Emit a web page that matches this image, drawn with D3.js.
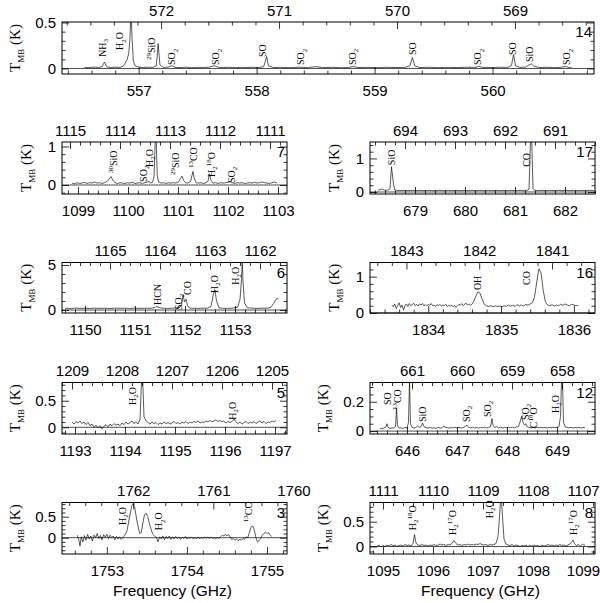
<!DOCTYPE html>
<html><head><meta charset="utf-8">
<script src="https://cdn.jsdelivr.net/npm/d3@7"></script>
<style>body{margin:0;background:#fff}</style>
</head><body>
<svg id="c" width="600" height="603"></svg>
<script>
// ---------------- DATA ----------------
// sideband sums (upper-axis frequency = C - lower frequency)
const C14 = 1129.19, C7 = 2213.84, C17 = 1372.8, C6 = 2315.5, C16 = 3676.7,
      C5 = 2401.94, C12 = 1307.1, C3 = 3515.33, C8 = 2206.0;

// tick labels (bottom = signal band, top = image band), GHz
const bot14=[557,558,559,560], top14=[572,571,570,569];
const bot7=[1099,1100,1101,1102,1103], top7=[1115,1114,1113,1112,1111];
const bot17=[679,680,681,682], top17=[694,693,692,691];
const bot6=[1150,1151,1152,1153], top6=[1165,1164,1163,1162];
const bot16=[1834,1835,1836], top16=[1843,1842,1841];
const bot5=[1193,1194,1195,1196,1197], top5=[1209,1208,1207,1206,1205];
const bot12=[646,647,648,649], top12=[661,660,659,658];
const bot3=[1753,1754,1755], top3=[1762,1761,1760];
const bot8=[1095,1096,1097,1098,1099], top8=[1111,1110,1109,1108,1107];

// y tick labels (K)
const yt14=[0,0.5], yt7=[0,1], yt17=[0,1], yt6=[0,5], yt16=[0,1], yt5=[0,0.5], yt12=[0,0.2], yt3=[0,0.5], yt8=[0,0.5];

// spectra [frequency GHz, T_MB K]
const spec14=[[556.54,0.012],[556.58,0.008],[556.62,0.015],[556.66,0.01],[556.69,0.02],[556.71,0.07],[556.73,0.018],[556.76,0.01],[556.80,0.014],[556.84,0.012],[556.87,0.025],[556.90,0.09],[556.915,0.16],[556.925,0.3],[556.935,0.62],[556.945,0.3],[556.955,0.08],[556.97,0.03],[557.00,0.015],[557.04,0.01],[557.08,0.014],[557.12,0.012],[557.15,0.03],[557.165,0.27],[557.18,0.04],[557.21,0.012],[557.25,0.015],[557.28,0.03],[557.31,0.012],[557.35,0.01],[557.40,0.014],[557.45,0.008],[557.50,0.012],[557.55,0.01],[557.60,0.015],[557.64,0.03],[557.68,0.012],[557.72,0.01],[557.77,0.013],[557.82,0.009],[557.87,0.012],[557.92,0.01],[557.97,0.013],[558.02,0.01],[558.06,0.02],[558.085,0.13],[558.10,0.03],[558.14,0.01],[558.20,0.012],[558.28,0.009],[558.36,0.013],[558.44,0.01],[558.50,0.02],[558.56,0.01],[558.64,0.012],[558.72,0.008],[558.78,0.012],[558.82,0.022],[558.86,0.01],[558.94,0.012],[559.02,0.009],[559.10,0.013],[559.18,0.01],[559.26,0.012],[559.30,0.03],[559.32,0.12],[559.34,0.03],[559.38,0.01],[559.46,0.013],[559.54,0.009],[559.62,0.012],[559.70,0.01],[559.78,0.013],[559.86,0.012],[559.88,0.025],[559.91,0.012],[559.98,0.01],[560.06,0.013],[560.13,0.012],[560.16,0.03],[560.178,0.15],[560.195,0.03],[560.23,0.012],[560.28,0.015],[560.31,0.04],[560.33,0.05],[560.35,0.025],[560.40,0.01],[560.46,0.013],[560.52,0.009],[560.58,0.012],[560.62,0.022],[560.65,0.01],[560.67,0.012]];

const spec7=[[1098.88,0.05],[1098.93,0.03],[1098.98,0.06],[1099.03,0.04],[1099.08,0.05],[1099.13,0.07],[1099.18,0.04],[1099.23,0.06],[1099.28,0.05],[1099.33,0.08],[1099.38,0.05],[1099.43,0.06],[1099.48,0.04],[1099.53,0.06],[1099.58,0.09],[1099.62,0.15],[1099.66,0.22],[1099.70,0.12],[1099.74,0.06],[1099.79,0.04],[1099.84,0.06],[1099.89,0.05],[1099.94,0.04],[1099.99,0.06],[1100.04,0.05],[1100.09,0.07],[1100.14,0.04],[1100.19,0.05],[1100.24,0.06],[1100.29,0.04],[1100.34,0.06],[1100.39,0.08],[1100.42,0.1],[1100.45,0.05],[1100.49,0.07],[1100.52,0.2],[1100.545,1.15],[1100.565,1.15],[1100.585,0.25],[1100.61,0.08],[1100.66,0.05],[1100.71,0.06],[1100.76,0.04],[1100.81,0.06],[1100.86,0.05],[1100.91,0.06],[1100.96,0.05],[1101.01,0.08],[1101.05,0.17],[1101.08,0.23],[1101.11,0.12],[1101.15,0.06],[1101.2,0.05],[1101.25,0.09],[1101.28,0.25],[1101.30,0.35],[1101.32,0.2],[1101.36,0.06],[1101.41,0.05],[1101.46,0.06],[1101.51,0.04],[1101.56,0.06],[1101.6,0.1],[1101.63,0.29],[1101.66,0.12],[1101.7,0.05],[1101.75,0.06],[1101.8,0.04],[1101.85,0.06],[1101.9,0.05],[1101.95,0.06],[1102.0,0.07],[1102.04,0.1],[1102.08,0.06],[1102.13,0.04],[1102.18,0.06],[1102.23,0.05],[1102.28,0.06],[1102.33,0.04],[1102.38,0.05],[1102.43,0.06],[1102.48,0.05],[1102.53,0.07],[1102.58,0.05],[1102.63,0.06],[1102.68,0.08],[1102.73,0.06],[1102.78,0.05],[1102.83,0.04],[1102.88,0.06],[1102.93,0.08],[1102.98,0.05]];

const spec17=[[678.26,0.05],[678.3,0.07],[678.34,0.09],[678.38,0.06],[678.42,0.05],[678.46,0.06],[678.5,0.1],[678.53,0.75],[678.56,0.35],[678.59,0.07],[678.63,0.05],[678.7,0.04],[678.78,0.05],[678.86,0.04],[678.94,0.05],[679.02,0.04],[679.1,0.05],[679.18,0.04],[679.26,0.05],[679.34,0.04],[679.42,0.04],[679.5,0.05],[679.58,0.04],[679.66,0.05],[679.74,0.04],[679.82,0.05],[679.9,0.04],[679.98,0.05],[680.06,0.04],[680.14,0.05],[680.22,0.04],[680.3,0.05],[680.38,0.04],[680.46,0.05],[680.54,0.04],[680.62,0.05],[680.7,0.04],[680.78,0.05],[680.86,0.04],[680.94,0.05],[681.02,0.04],[681.1,0.05],[681.18,0.04],[681.24,0.05],[681.28,0.08],[681.31,1.55],[681.335,1.55],[681.36,0.1],[681.4,0.05],[681.46,0.04],[681.54,0.05],[681.62,0.04],[681.7,0.05],[681.78,0.04],[681.86,0.05],[681.94,0.04],[682.02,0.05],[682.1,0.04],[682.18,0.05],[682.26,0.04],[682.34,0.05],[682.42,0.04],[682.5,0.05],[682.58,0.04]];

const spec6=[[1149.6,0.2],[1149.7,0.15],[1149.8,0.22],[1149.9,0.18],[1150.0,0.2],[1150.1,0.17],[1150.2,0.21],[1150.3,0.18],[1150.4,0.2],[1150.5,0.16],[1150.6,0.21],[1150.7,0.19],[1150.8,0.2],[1150.9,0.17],[1151.0,0.21],[1151.1,0.18],[1151.2,0.2],[1151.3,0.19],[1151.38,0.25],[1151.43,0.4],[1151.48,0.28],[1151.55,0.2],[1151.65,0.18],[1151.75,0.21],[1151.83,0.26],[1151.88,0.22],[1151.93,0.5],[1151.96,1.7],[1151.99,0.9],[1152.02,1.2],[1152.05,0.5],[1152.09,0.22],[1152.15,0.2],[1152.25,0.18],[1152.35,0.21],[1152.45,0.2],[1152.52,0.4],[1152.57,1.8],[1152.6,2.2],[1152.63,1.0],[1152.68,0.25],[1152.75,0.2],[1152.85,0.18],[1152.95,0.21],[1153.05,0.3],[1153.1,1.2],[1153.13,3.4],[1153.145,5.5],[1153.16,3.2],[1153.19,0.8],[1153.25,0.25],[1153.35,0.2],[1153.45,0.18],[1153.55,0.21],[1153.65,0.2],[1153.72,0.3],[1153.77,0.7],[1153.82,1.2],[1153.87,1.3]];

const spec16=[[1833.5,0.22],[1833.52,0.17],[1833.54,0.25],[1833.56,0.12],[1833.58,0.2],[1833.6,0.28],[1833.62,0.15],[1833.64,0.22],[1833.66,0.08],[1833.68,0.2],[1833.7,0.25],[1833.72,0.18],[1833.74,0.26],[1833.76,0.2],[1833.78,0.23],[1833.8,0.27],[1833.82,0.2],[1833.84,0.24],[1833.86,0.19],[1833.88,0.25],[1833.9,0.22],[1833.92,0.26],[1833.94,0.2],[1833.96,0.23],[1833.98,0.19],[1834.0,0.24],[1834.02,0.21],[1834.04,0.26],[1834.06,0.2],[1834.08,0.22],[1834.1,0.18],[1834.12,0.23],[1834.14,0.2],[1834.16,0.24],[1834.18,0.19],[1834.2,0.22],[1834.22,0.2],[1834.24,0.24],[1834.26,0.18],[1834.28,0.21],[1834.3,0.19],[1834.32,0.22],[1834.34,0.17],[1834.36,0.21],[1834.38,0.15],[1834.4,0.2],[1834.42,0.24],[1834.44,0.21],[1834.46,0.26],[1834.48,0.2],[1834.5,0.24],[1834.52,0.27],[1834.54,0.22],[1834.56,0.25],[1834.58,0.21],[1834.6,0.24],[1834.62,0.3],[1834.65,0.45],[1834.68,0.58],[1834.71,0.55],[1834.74,0.38],[1834.77,0.24],[1834.8,0.2],[1834.83,0.18],[1834.86,0.2],[1834.89,0.17],[1834.92,0.2],[1834.95,0.18],[1834.98,0.19],[1835.01,0.17],[1835.04,0.2],[1835.07,0.18],[1835.1,0.22],[1835.13,0.19],[1835.16,0.21],[1835.19,0.18],[1835.22,0.23],[1835.25,0.2],[1835.28,0.22],[1835.31,0.19],[1835.34,0.24],[1835.37,0.21],[1835.4,0.25],[1835.43,0.28],[1835.46,0.45],[1835.49,0.85],[1835.52,1.22],[1835.55,1.1],[1835.58,0.6],[1835.61,0.3],[1835.64,0.22],[1835.67,0.2],[1835.7,0.23],[1835.73,0.19],[1835.76,0.22],[1835.79,0.2],[1835.82,0.24],[1835.85,0.21],[1835.88,0.25],[1835.91,0.22],[1835.94,0.2],[1835.97,0.24],[1836.0,0.22],[1836.03,0.2],[1836.06,0.21]];

const spec5=[[1192.94,0.1],[1192.98,0.06],[1193.02,0.11],[1193.06,0.08],[1193.1,0.12],[1193.14,0.07],[1193.18,0.1],[1193.22,0.05],[1193.26,0.09],[1193.3,0.03],[1193.34,0.06],[1193.38,0.0],[1193.42,0.04],[1193.46,-0.01],[1193.5,0.03],[1193.54,-0.03],[1193.58,0.02],[1193.62,0.05],[1193.66,0.01],[1193.7,0.06],[1193.74,0.03],[1193.78,0.07],[1193.82,0.04],[1193.86,0.06],[1193.9,0.03],[1193.94,0.08],[1193.98,0.05],[1194.02,0.1],[1194.06,0.06],[1194.1,0.09],[1194.14,0.12],[1194.18,0.07],[1194.22,0.1],[1194.26,0.06],[1194.3,0.15],[1194.33,0.86],[1194.355,0.86],[1194.38,0.2],[1194.42,0.12],[1194.46,0.09],[1194.5,0.06],[1194.54,0.1],[1194.58,0.07],[1194.62,0.09],[1194.66,0.05],[1194.7,0.08],[1194.74,0.06],[1194.78,0.1],[1194.82,0.07],[1194.86,0.09],[1194.9,0.06],[1194.94,0.08],[1194.98,0.11],[1195.02,0.07],[1195.06,0.09],[1195.1,0.06],[1195.14,0.1],[1195.18,0.08],[1195.22,0.11],[1195.26,0.07],[1195.3,0.1],[1195.34,0.08],[1195.38,0.11],[1195.42,0.09],[1195.46,0.12],[1195.5,0.08],[1195.54,0.1],[1195.58,0.09],[1195.62,0.12],[1195.66,0.1],[1195.7,0.13],[1195.74,0.1],[1195.78,0.12],[1195.82,0.14],[1195.86,0.11],[1195.9,0.13],[1195.94,0.1],[1195.98,0.12],[1196.02,0.08],[1196.06,0.11],[1196.1,0.09],[1196.14,0.11],[1196.18,0.16],[1196.22,0.1],[1196.26,0.07],[1196.3,0.1],[1196.34,0.06],[1196.38,0.09],[1196.42,0.11],[1196.46,0.07],[1196.5,0.1],[1196.54,0.08],[1196.58,0.11],[1196.62,0.07],[1196.66,0.1],[1196.7,0.12],[1196.74,0.08],[1196.78,0.11],[1196.82,0.07],[1196.86,0.1],[1196.9,0.09],[1196.94,0.12],[1196.98,0.1],[1197.02,0.13]];

const spec12=[[645.46,0.02],[645.5,0.015],[645.54,0.022],[645.58,0.03],[645.6,0.05],[645.62,0.025],[645.66,0.018],[645.7,0.022],[645.74,0.02],[645.77,0.03],[645.79,0.155],[645.81,0.04],[645.84,0.02],[645.88,0.022],[645.92,0.018],[645.96,0.025],[646.0,0.02],[646.03,0.06],[646.05,0.34],[646.07,0.05],[646.1,0.025],[646.14,0.02],[646.18,0.025],[646.21,0.035],[646.24,0.025],[646.28,0.03],[646.31,0.055],[646.34,0.03],[646.38,0.022],[646.42,0.02],[646.46,0.025],[646.5,0.02],[646.54,0.022],[646.58,0.018],[646.62,0.025],[646.66,0.02],[646.7,0.023],[646.74,0.035],[646.77,0.022],[646.8,0.025],[646.84,0.02],[646.88,0.024],[646.92,0.021],[646.96,0.026],[647.0,0.022],[647.04,0.025],[647.08,0.02],[647.12,0.024],[647.16,0.03],[647.2,0.04],[647.23,0.025],[647.27,0.022],[647.31,0.026],[647.35,0.021],[647.39,0.024],[647.43,0.02],[647.47,0.025],[647.51,0.022],[647.55,0.026],[647.59,0.021],[647.63,0.024],[647.67,0.03],[647.7,0.085],[647.72,0.04],[647.75,0.025],[647.79,0.03],[647.83,0.022],[647.87,0.026],[647.91,0.021],[647.95,0.025],[647.99,0.022],[648.03,0.027],[648.07,0.023],[648.11,0.026],[648.15,0.022],[648.19,0.028],[648.23,0.03],[648.26,0.06],[648.29,0.1],[648.32,0.06],[648.35,0.04],[648.38,0.05],[648.4,0.03],[648.44,0.025],[648.48,0.022],[648.52,0.025],[648.56,0.021],[648.6,0.024],[648.64,0.022],[648.68,0.026],[648.72,0.022],[648.76,0.025],[648.8,0.021],[648.84,0.024],[648.88,0.022],[648.92,0.026],[648.96,0.022],[649.0,0.025],[649.04,0.03],[649.07,0.1],[649.09,0.34],[649.11,0.34],[649.13,0.06],[649.16,0.03],[649.2,0.025],[649.24,0.022],[649.28,0.026],[649.32,0.021],[649.36,0.025],[649.4,0.022],[649.44,0.024],[649.48,0.021],[649.52,0.025],[649.56,0.022]];

const spec3=[[1752.63,0.06],[1752.65,-0.05],[1752.665,-0.2],[1752.68,0.02],[1752.7,-0.1],[1752.72,0.05],[1752.74,-0.06],[1752.76,0.08],[1752.78,-0.03],[1752.8,0.04],[1752.82,-0.08],[1752.84,0.06],[1752.86,0.0],[1752.88,0.1],[1752.9,-0.02],[1752.92,0.05],[1752.94,-0.05],[1752.96,0.07],[1752.98,0.01],[1753.0,0.08],[1753.02,-0.02],[1753.04,0.06],[1753.06,0.0],[1753.08,0.04],[1753.1,-0.05],[1753.12,0.03],[1753.14,-0.03],[1753.16,0.02],[1753.18,-0.04],[1753.2,0.0],[1753.22,0.05],[1753.25,0.15],[1753.28,0.45],[1753.31,0.75],[1753.33,0.82],[1753.35,0.7],[1753.38,0.35],[1753.41,0.1],[1753.43,0.12],[1753.45,0.35],[1753.47,0.55],[1753.49,0.58],[1753.51,0.5],[1753.54,0.28],[1753.57,0.1],[1753.6,0.03],[1753.62,0.0],[1753.64,-0.1],[1753.66,0.02],[1753.68,-0.03],[1753.7,0.04],[1753.72,-0.05],[1753.74,0.03],[1753.76,-0.02],[1753.78,0.04],[1753.8,-0.04],[1753.82,0.02],[1753.84,-0.03],[1753.86,0.03],[1753.88,-0.02],[1753.9,0.02],[1753.92,-0.04],[1753.94,0.01],[1753.96,-0.02],[1753.98,0.03],[1754.0,-0.03],[1754.02,0.01],[1754.04,-0.02],[1754.06,0.02],[1754.08,-0.03],[1754.1,0.0],[1754.12,-0.02],[1754.14,0.02],[1754.16,-0.03],[1754.18,0.01],[1754.2,-0.02],[1754.22,0.02],[1754.24,-0.01],[1754.26,0.01],[1754.28,-0.02],[1754.3,0.02],[1754.32,-0.02],[1754.34,0.0],[1754.36,-0.03],[1754.38,0.01],[1754.4,-0.02],[1754.42,0.02],[1754.44,0.06],[1754.46,0.04],[1754.48,0.08],[1754.5,0.05],[1754.52,0.07],[1754.54,0.02],[1754.56,-0.04],[1754.58,-0.02],[1754.6,-0.06],[1754.62,-0.03],[1754.64,-0.07],[1754.66,-0.04],[1754.68,-0.06],[1754.7,-0.02],[1754.72,-0.04],[1754.74,0.02],[1754.76,0.0],[1754.78,0.12],[1754.8,0.25],[1754.82,0.28],[1754.84,0.2],[1754.86,0.02],[1754.88,-0.1],[1754.9,-0.07],[1754.92,-0.02],[1754.94,0.05],[1754.96,0.1],[1754.98,0.13],[1755.0,0.1],[1755.02,0.12],[1755.04,0.06],[1755.06,0.03]];

const spec8=[[1094.88,0.0],[1094.92,0.03],[1094.96,-0.01],[1095.0,0.02],[1095.04,0.0],[1095.08,0.03],[1095.12,0.01],[1095.16,0.04],[1095.2,0.01],[1095.24,0.03],[1095.28,0.0],[1095.32,0.02],[1095.36,0.03],[1095.4,0.01],[1095.44,0.04],[1095.48,0.02],[1095.52,0.03],[1095.56,0.01],[1095.6,0.06],[1095.63,0.24],[1095.66,0.07],[1095.7,0.03],[1095.74,0.02],[1095.78,0.04],[1095.82,0.02],[1095.86,0.03],[1095.9,0.01],[1095.94,0.03],[1095.98,0.02],[1096.02,0.04],[1096.06,0.02],[1096.1,0.03],[1096.14,0.05],[1096.18,0.03],[1096.22,0.04],[1096.26,0.02],[1096.3,0.04],[1096.34,0.03],[1096.38,0.06],[1096.42,0.12],[1096.46,0.06],[1096.5,0.03],[1096.54,0.04],[1096.58,0.02],[1096.62,0.04],[1096.66,0.03],[1096.7,0.05],[1096.74,0.03],[1096.78,0.04],[1096.82,0.03],[1096.86,0.05],[1096.9,0.04],[1096.94,0.06],[1096.98,0.04],[1097.02,0.03],[1097.06,0.04],[1097.1,0.02],[1097.14,0.04],[1097.18,0.03],[1097.22,0.04],[1097.26,0.06],[1097.3,0.2],[1097.33,0.6],[1097.35,0.92],[1097.37,0.92],[1097.39,0.6],[1097.42,0.15],[1097.46,0.05],[1097.5,0.03],[1097.54,0.02],[1097.58,0.04],[1097.62,0.01],[1097.66,0.03],[1097.7,0.02],[1097.74,0.0],[1097.78,0.02],[1097.82,0.01],[1097.86,0.03],[1097.9,0.0],[1097.94,0.02],[1097.98,0.01],[1098.02,0.03],[1098.06,0.01],[1098.1,0.02],[1098.14,0.0],[1098.18,0.03],[1098.22,0.01],[1098.26,0.02],[1098.3,0.04],[1098.34,0.02],[1098.38,0.03],[1098.42,0.01],[1098.46,0.03],[1098.5,0.02],[1098.54,0.04],[1098.58,0.02],[1098.62,0.03],[1098.66,0.01],[1098.7,0.03],[1098.74,0.05],[1098.78,0.1],[1098.8,0.13],[1098.83,0.06],[1098.87,0.02],[1098.91,0.04],[1098.95,0.01],[1098.99,0.05],[1099.04,0.02]];

// line identifications [name, frequency GHz, T at bottom of label]
const lab14=[["NH_3",556.69,0.125],["H_2O",556.84,0.2],["^{29}SiO",557.11,0.092],["SO_2",557.28,0.038],["SO_2",557.65,0.038],["SO",558.05,0.125],["SO_2",558.37,0.038],["SO_2",558.81,0.038],["SO",559.32,0.146],["SO_2",559.87,0.038],["SO",560.17,0.146],["SiO",560.31,0.07],["SO_2",560.63,0.038]];
const lab7=[["^{30}SiO",1099.7,0.31],["SO_2",1100.3,0.08],["H_2O",1100.42,0.47],["^{29}SiO",1100.94,0.26],["^{13}CO",1101.3,0.44],["H_2^{18}O",1101.66,0.21],["SO_2",1102.06,0.05]];
const lab17=[["SiO",678.52,0.8],["CO",681.22,0.75]];
const lab6=[["HCN",1151.44,0.55],["SO_2",1151.86,0.0],["CO",1152.04,1.67],["H_2O",1152.58,1.9],["H_2O",1153.0,2.8]];
const lab16=[["OH",1834.67,0.63],["CO",1835.35,0.77]];
const lab5=[["H_2O",1194.14,0.42],["H_2O",1196.14,0.14]];
const lab12=[["SO",645.6,0.177],["^{13}CO",645.8,0.143],["SiO",646.3,0.061],["SO_2",647.18,0.061],["SO_2",647.6,0.096],["SO_2",648.36,0.075],["C^{18}O",648.52,0.02],["H_2O",648.96,0.123]];
const lab3=[["H_2O",1753.19,0.3],["H_2O",1753.65,0.18],["^{13}CO",1754.765,0.37]];
const lab8=[["H_2^{18}O",1095.58,0.33],["H_2^{17}O",1096.38,0.23],["H_2O",1097.12,0.57],["H_2^{17}O",1098.8,0.23]];

// ---------------- LAYOUT ----------------
const SANS="'Liberation Sans', Arial, Helvetica, sans-serif";
const SERIF="'Liberation Serif','Times New Roman',serif";
const L=[62,287], R=[370,595], TOPW=[62,594];
const ROWS=[[22,74],[142,194],[262.5,313],[382.5,434],[502.5,554]];

const panels=[
 {num:"14",spec:spec14,lab:lab14,bot:bot14,top:top14,C:C14,xd:[556.35,560.86],yd:[-0.06,0.505],yt:yt14,ym:0.1,fx:TOPW,fy:ROWS[0],wide:true},
 {num:"7",spec:spec7,lab:lab7,bot:bot7,top:top7,C:C7,xd:[1098.68,1103.18],yd:[-0.234,1.117],yt:yt7,ym:0.2,fx:L,fy:ROWS[1],wide:false},
 {num:"17",spec:spec17,lab:lab17,bot:bot17,top:top17,C:C17,xd:[678.1,682.6],yd:[-0.06,1.49],yt:yt17,ym:0.2,fx:R,fy:ROWS[1],wide:false},
 {num:"6",spec:spec6,lab:lab6,bot:bot6,top:top6,C:C6,xd:[1149.54,1154.04],yd:[-0.33,5.28],yt:yt6,ym:1,fx:L,fy:ROWS[2],wide:false},
 {num:"16",spec:spec16,lab:lab16,bot:bot16,top:top16,C:C16,xd:[1833.2,1836.29],yd:[0,1.39],yt:yt16,ym:0.2,fx:R,fy:ROWS[2],wide:false},
 {num:"5",spec:spec5,lab:lab5,bot:bot5,top:top5,C:C5,xd:[1192.74,1197.24],yd:[-0.126,0.842],yt:yt5,ym:0.1,fx:L,fy:ROWS[3],wide:true},
 {num:"12",spec:spec12,lab:lab12,bot:bot12,top:top12,C:C12,xd:[645.26,649.76],yd:[-0.02,0.331],yt:yt12,ym:0.05,fx:R,fy:ROWS[3],wide:true},
 {num:"3",spec:spec3,lab:lab3,bot:bot3,top:top3,C:C3,xd:[1752.44,1755.25],yd:[-0.388,0.838],yt:yt3,ym:0.1,fx:L,fy:ROWS[4],wide:true},
 {num:"8",spec:spec8,lab:lab8,bot:bot8,top:top8,C:C8,xd:[1094.74,1099.24],yd:[-0.151,0.887],yt:yt8,ym:0.1,fx:R,fy:ROWS[4],wide:true}
];

const svg=d3.select("#c");

function markup(sel,s,fs,subScale){
  const re=/(_\{[^}]*\}|_.|\^\{[^}]*\}|\^.|[^_^]+)/g; let m, shift=0;
  while((m=re.exec(s))){
    let tok=m[0], target=0, size=fs;
    if(tok[0]==='_'){target=0.28*fs; size=fs*subScale; tok=tok.slice(1).replace(/[{}]/g,'');}
    else if(tok[0]==='^'){target=-0.38*fs; size=fs*subScale; tok=tok.slice(1).replace(/[{}]/g,'');}
    sel.append("tspan").attr("dy",target-shift).attr("font-size",size).text(tok);
    shift=target;
  }
}

function minorVals(d,step,majors){
  const lo=Math.min(d[0],d[1]), hi=Math.max(d[0],d[1]);
  const k0=Math.ceil(lo/step-1e-9), k1=Math.floor(hi/step+1e-9);
  return d3.range(k0,k1+1).map(k=>+(k*step).toFixed(6)).filter(v=>!majors.some(M=>Math.abs(M-v)<1e-6));
}

function styleAxis(g, scale, lim){
  g.select(".domain").remove();
  g.selectAll("line").attr("stroke","#000").attr("stroke-width",0.8);
  g.selectAll("text").attr("font-family",SANS).attr("font-size",15).attr("fill","#000");
  g.attr("font-family",null).attr("font-size",null);
  if(scale){
    g.selectAll(".tick").filter(d=>{const v=scale(d);return v<lim[0]-0.5||v>lim[1]+0.5;}).select("line").remove();
  }
}

panels.forEach((p,i)=>{
  const x=d3.scaleLinear().domain(p.xd).range(p.fx);
  const xt=d3.scaleLinear().domain([p.C-p.xd[0],p.C-p.xd[1]]).range(p.fx);
  const y=d3.scaleLinear().domain(p.yd).range([p.fy[1],p.fy[0]]);
  const g=svg.append("g");
  const W=p.fx[1]-p.fx[0], H=p.fy[1]-p.fy[0];
  const cid="clip"+i;
  svg.append("clipPath").attr("id",cid).append("rect").attr("x",p.fx[0]).attr("y",p.fy[0]).attr("width",W).attr("height",H);

  const MAJ=7, MIN=3.5;
  // bottom
  g.append("g").attr("transform",`translate(0,${p.fy[1]})`)
    .call(d3.axisBottom(x).tickValues(p.bot).tickSizeInner(-MAJ).tickSizeOuter(0).tickPadding(11).tickFormat(d=>String(d))).call(styleAxis,x,p.fx);
  g.append("g").attr("transform",`translate(0,${p.fy[1]})`)
    .call(d3.axisBottom(x).tickValues(minorVals(p.xd,0.2,p.bot)).tickSizeInner(-MIN).tickSizeOuter(0).tickFormat(()=>"")).call(styleAxis);
  // top
  g.append("g").attr("transform",`translate(0,${p.fy[0]})`)
    .call(d3.axisTop(xt).tickValues(p.top).tickSizeInner(-MAJ).tickSizeOuter(0).tickPadding(6.5).tickFormat(d=>String(d))).call(styleAxis,xt,p.fx);
  g.append("g").attr("transform",`translate(0,${p.fy[0]})`)
    .call(d3.axisTop(xt).tickValues(minorVals(xt.domain(),0.2,p.top)).tickSizeInner(-MIN).tickSizeOuter(0).tickFormat(()=>"")).call(styleAxis);
  // left
  g.append("g").attr("transform",`translate(${p.fx[0]},0)`)
    .call(d3.axisLeft(y).tickValues(p.yt).tickSizeInner(-MAJ).tickSizeOuter(0).tickPadding(6).tickFormat(d=>String(d))).call(styleAxis);
  g.append("g").attr("transform",`translate(${p.fx[0]},0)`)
    .call(d3.axisLeft(y).tickValues(minorVals(p.yd,p.ym,p.yt)).tickSizeInner(-MIN).tickSizeOuter(0).tickFormat(()=>"")).call(styleAxis);
  // right
  g.append("g").attr("transform",`translate(${p.fx[1]},0)`)
    .call(d3.axisRight(y).tickValues(p.yt).tickSizeInner(-MAJ).tickSizeOuter(0).tickFormat(()=>"")).call(styleAxis);
  g.append("g").attr("transform",`translate(${p.fx[1]},0)`)
    .call(d3.axisRight(y).tickValues(minorVals(p.yd,p.ym,p.yt)).tickSizeInner(-MIN).tickSizeOuter(0).tickFormat(()=>"")).call(styleAxis);

  // zero line
  g.append("line").attr("x1",p.fx[0]).attr("x2",p.fx[1]).attr("y1",y(0)).attr("y2",y(0))
    .attr("stroke","#000").attr("stroke-width",0.7);

  // spectrum
  g.append("path").datum(p.spec).attr("clip-path",`url(#${cid})`)
    .attr("d",d3.line().x(d=>x(d[0])).y(d=>y(d[1])))
    .attr("fill","none").attr("stroke","#000").attr("stroke-width",0.65).attr("stroke-linejoin","round");

  // frame
  g.append("rect").attr("x",p.fx[0]).attr("y",p.fy[0]).attr("width",W).attr("height",H)
    .attr("fill","none").attr("stroke","#000").attr("stroke-width",1);

  // line labels
  p.lab.forEach(([t,f,T])=>{
    const tx=g.append("text").attr("transform",`translate(${x(f)+3.5},${y(T)}) rotate(-90)`)
      .attr("font-family",SERIF).attr("font-size",10).attr("fill","#000");
    markup(tx,t,10,0.7);
  });

  // panel number
  g.append("text").attr("x",p.fx[1]-2).attr("y",p.fy[0]+15).attr("text-anchor","end")
    .attr("font-family",SANS).attr("font-size",15).text(p.num);

  // y label
  const lx=p.fx[0]-(p.wide?47:36), cy=(p.fy[0]+p.fy[1])/2;
  const yl=svg.append("text").attr("transform",`translate(${lx+5},${cy}) rotate(-90)`)
    .attr("text-anchor","middle").attr("font-family",SERIF).attr("font-size",15);
  markup(yl,"T_{MB} (K)",15,0.6);
});

// x titles
[L,R].forEach(fx=>{
  svg.append("text").attr("x",(fx[0]+fx[1])/2-2).attr("y",596).attr("text-anchor","middle")
    .attr("font-family",SANS).attr("font-size",15.5).text("Frequency (GHz)");
});
</script>
</body></html>
